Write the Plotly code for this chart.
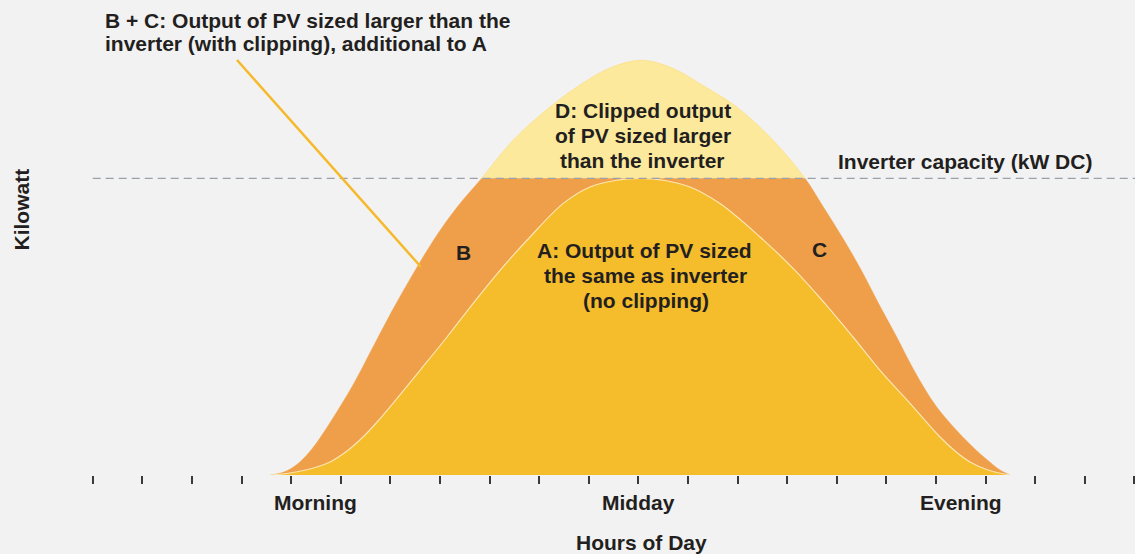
import plotly.graph_objects as go

# ---- data (hours of day vs output; inverter capacity = 1.0; heights read in px then /296.7) ----
PXU = 296.7
hours_a = [3.575, 3.978, 4.381, 4.784, 5.127, 5.450, 5.752, 6.054, 6.599, 7.143, 7.667,
           8.212, 8.817, 9.482, 10.026, 10.530, 11.034, 11.538, 12.042, 12.647, 13.454,
           14.159, 14.764, 15.329, 15.873, 16.478, 17.083, 17.385, 17.688, 18.050, 18.494]
kw_a_px = [0, 2, 6, 13, 24, 38, 54, 71.7, 104.7, 138, 171.4,
           204.7, 238, 271.4, 288, 294.5, 296.7, 294.5, 288, 271.4, 238,
           204.7, 171.4, 138, 104.7, 71.7, 38, 24, 13, 5, 0]
kw_a = [round(v / PXU, 4) for v in kw_a_px]

hours_pv = [3.575, 3.796, 4.018, 4.240, 4.482, 4.845, 5.248, 5.631, 6.034, 6.458, 6.901,
            7.365, 7.843, 8.474, 9.220, 9.825, 10.429, 11.054, 11.679, 12.284, 12.984,
            13.716, 14.361, 14.730, 15.133, 15.504, 15.839, 16.210, 16.544, 17.016, 17.621,
            17.990, 18.292, 18.494]
kw_pv_px = [0, 2, 7, 16, 30, 57, 90, 126, 164, 201, 237,
            269, 296.7, 334.7, 368, 390, 407, 414.7, 407, 390, 368,
            334.7, 296.7, 268, 236, 204, 172, 138, 106, 68, 34,
            17, 5, 0]
kw_pv = [round(v / PXU, 4) for v in kw_pv_px]

inverter_capacity = 1.0
tick_hours = list(range(0, 22))
period_labels = ["Morning", "Midday", "Evening"]
period_hours = [4.5, 11, 17.5]

# ---- layout constants ----
W, H = 1135, 554
BOTTOM = 79
PLOT_H = H - BOTTOM
X_RANGE = [-1.869, 21.014]
Y_TOP = PLOT_H / PXU

C_A = "#f5bc2c"
C_BC = "#ef9f4a"
C_D = "#fde99b"
TXT = "#231f20"
FONT = "Liberation Sans, Arial, sans-serif"
FS = 21


def px(x):
    return x / W


def py(y):
    return (PLOT_H - y) / PLOT_H


fig = go.Figure()

# D: full output of oversized PV (unclipped)
fig.add_trace(go.Scatter(
    x=hours_pv, y=kw_pv, mode="lines", fill="tozeroy", fillcolor=C_D,
    line=dict(color="#fbe089", width=0.8, shape="spline", smoothing=1),
    yaxis="y", hoverinfo="skip", showlegend=False))

# B + C: oversized PV clipped at inverter capacity (axis domain ends at capacity)
fig.add_trace(go.Scatter(
    x=hours_pv, y=kw_pv, mode="lines", fill="tozeroy", fillcolor=C_BC,
    line=dict(color=C_BC, width=0.5, shape="spline", smoothing=1),
    yaxis="y2", hoverinfo="skip", showlegend=False))

# A: PV sized same as inverter
fig.add_trace(go.Scatter(
    x=hours_a, y=kw_a, mode="lines", fill="tozeroy", fillcolor=C_A,
    line=dict(color="rgba(255,236,190,0.9)", width=1.2, shape="spline", smoothing=1),
    yaxis="y2", hoverinfo="skip", showlegend=False))

shapes = [
    dict(type="line", xref="x", yref="y", x0=0, x1=X_RANGE[1], y0=0, y1=0,
         line=dict(color="#3a3a3a", width=1.5), layer="below"),
    dict(type="line", xref="x", yref="y", x0=0, x1=X_RANGE[1],
         y0=inverter_capacity, y1=inverter_capacity,
         line=dict(color="#9aa1aa", width=1.3, dash="8px,5px"), layer="above"),
    dict(type="line", xref="paper", yref="paper", x0=px(237), y0=py(60),
         x1=px(421), y1=py(267), line=dict(color="#f6b92b", width=2.5)),
]

annotations = []


def label(text, x, y, xanchor="center", angle=0, size=FS):
    annotations.append(dict(
        text="<b>%s</b>" % text, x=px(x), y=py(y), xref="paper", yref="paper",
        xanchor=xanchor, yanchor="middle", showarrow=False, textangle=angle,
        font=dict(family=FONT, size=size, color=TXT)))


label("B + C: Output of PV sized larger than the", 103, 20, xanchor="left")
label("inverter (with clipping), additional to A", 103, 43, xanchor="left")
label("D: Clipped output", 642.5, 110)
label("of PV sized larger", 643, 135)
label("than the inverter", 642.5, 160)
label("A: Output of PV sized", 644.5, 250)
label("the same as inverter", 645, 275)
label("(no clipping)", 645.5, 300)
label("B", 463, 252)
label("C", 819.5, 249)
label("Inverter capacity (kW DC)", 965, 161)
label("Kilowatt", 20.5, 210, angle=-90)
label("Hours of Day", 641, 542.5)

for name, hr in zip(period_labels, period_hours):
    annotations.append(dict(
        text="<b>%s</b>" % name, x=hr, y=py(502.5), xref="x", yref="paper",
        xanchor="center", yanchor="middle", showarrow=False,
        font=dict(family=FONT, size=FS, color=TXT)))

fig.update_layout(
    width=W, height=H,
    margin=dict(l=0, r=0, t=0, b=BOTTOM, pad=0),
    paper_bgcolor="#f2f2f2", plot_bgcolor="#f2f2f2",
    xaxis=dict(range=X_RANGE, showgrid=False, zeroline=False, showline=False,
               ticks="outside", tickvals=tick_hours, ticklen=8, tickwidth=1.5,
               tickcolor="#3a3a3a", showticklabels=False, fixedrange=True),
    yaxis=dict(range=[0, Y_TOP], domain=[0, 1], visible=False, fixedrange=True),
    yaxis2=dict(range=[0, inverter_capacity], domain=[0, inverter_capacity / Y_TOP],
                anchor="x", visible=False, fixedrange=True),
    shapes=shapes, annotations=annotations,
)

fig.write_html("out.html", config={"displayModeBar": False},
               post_script="document.body.style.margin='0';document.body.style.overflow='hidden';")
